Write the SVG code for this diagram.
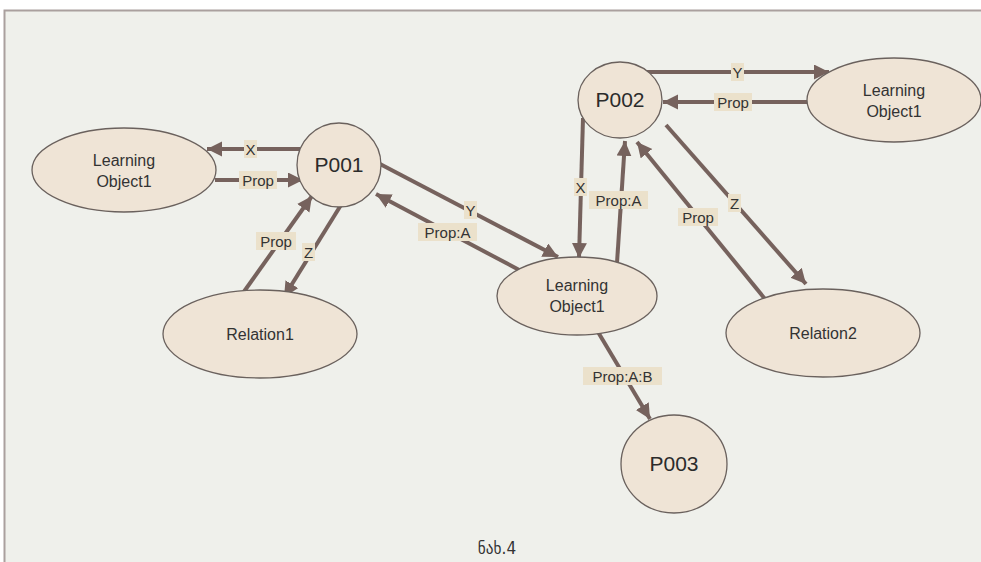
<svg xmlns="http://www.w3.org/2000/svg" width="981" height="562" viewBox="0 0 981 562">
  <defs>
    <marker id="arrow" markerUnits="userSpaceOnUse" markerWidth="16" markerHeight="16" refX="15" refY="7.5" orient="auto">
      <path d="M0,0 L15,7.5 L0,15 z" fill="#76625d"/>
    </marker>
    <style>
      .node { fill: #efe4d6; stroke: #6a615d; stroke-width: 1.3; }
      .ntext { font-family: "Liberation Sans", Arial, sans-serif; font-size: 16px; fill: #333; text-anchor: middle; }
      .ptext { font-family: "Liberation Sans", Arial, sans-serif; font-size: 21px; fill: #2b2b2b; text-anchor: middle; }
      .edge { stroke: #76625d; stroke-width: 4; fill: none; marker-end: url(#arrow); }
      .lbg { fill: #ebe1cb; }
      .ltext { font-family: "Liberation Sans", Arial, sans-serif; font-size: 15px; fill: #333; text-anchor: middle; dominant-baseline: central; }
    </style>
  </defs>

  <!-- page and frame -->
  <rect x="0" y="0" width="981" height="562" fill="#ffffff"/>
  <rect x="4" y="10" width="977" height="552" fill="#eff0eb"/>
  <path d="M4.5,562 L4.5,10.5 L981,10.5" fill="none" stroke="#aaa09e" stroke-width="2"/>

  <!-- connectors -->
  <g id="connectors">
    <line class="edge" x1="300" y1="149" x2="207" y2="149"/>
    <line class="edge" x1="215" y1="180" x2="303" y2="180"/>
    <line class="edge" x1="243" y1="293" x2="312" y2="196"/>
    <line class="edge" x1="341" y1="205" x2="284" y2="297"/>
    <line class="edge" x1="380" y1="164" x2="558" y2="257"/>
    <line class="edge" x1="523" y1="272" x2="376" y2="194"/>
    <line class="edge" x1="583" y1="118" x2="579" y2="258"/>
    <line class="edge" x1="617" y1="263" x2="625" y2="141"/>
    <line class="edge" x1="646" y1="72" x2="829" y2="72"/>
    <line class="edge" x1="807" y1="102" x2="663" y2="102"/>
    <line class="edge" x1="765" y1="299" x2="637" y2="142"/>
    <line class="edge" x1="666" y1="125" x2="806" y2="284"/>
    <line class="edge" x1="598" y1="332" x2="650" y2="419"/>

    <!-- edge labels -->
    <g id="labels">
      <rect class="lbg" x="244" y="140" width="13" height="18"/><text class="ltext" x="250.5" y="149">X</text>
      <rect class="lbg" x="239" y="171" width="38" height="18"/><text class="ltext" x="258" y="180">Prop</text>
      <rect class="lbg" x="256" y="232" width="40" height="18"/><text class="ltext" x="276" y="241">Prop</text>
      <rect class="lbg" x="302" y="243" width="13" height="18"/><text class="ltext" x="308.5" y="252">Z</text>
      <rect class="lbg" x="464" y="201" width="13" height="18"/><text class="ltext" x="470.5" y="210">Y</text>
      <rect class="lbg" x="418" y="223" width="59" height="18"/><text class="ltext" x="447.5" y="232">Prop:A</text>
      <rect class="lbg" x="574" y="178" width="13" height="18"/><text class="ltext" x="580.5" y="187">X</text>
      <rect class="lbg" x="589" y="191" width="59" height="18"/><text class="ltext" x="618.5" y="200">Prop:A</text>
      <rect class="lbg" x="731" y="63" width="13" height="18"/><text class="ltext" x="737.5" y="72">Y</text>
      <rect class="lbg" x="714" y="93" width="38" height="18"/><text class="ltext" x="733" y="102">Prop</text>
      <rect class="lbg" x="678" y="208" width="40" height="18"/><text class="ltext" x="698" y="217">Prop</text>
      <rect class="lbg" x="728" y="194" width="13" height="18"/><text class="ltext" x="734.5" y="203">Z</text>
      <rect class="lbg" x="583" y="367" width="79" height="18"/><text class="ltext" x="622.5" y="376">Prop:A:B</text>
    </g>
  </g>

  <!-- nodes -->
  <g id="lo-left">
    <ellipse class="node" cx="124" cy="170" rx="92" ry="42"/>
    <text class="ntext" x="124" y="166">Learning</text>
    <text class="ntext" x="124" y="187">Object1</text>
  </g>
  <g id="p001">
    <circle class="node" cx="339" cy="165" r="42"/>
    <text class="ptext" x="339" y="172">P001</text>
  </g>
  <g id="relation1">
    <ellipse class="node" cx="260" cy="334" rx="97" ry="44"/>
    <text class="ntext" x="260" y="340">Relation1</text>
  </g>
  <g id="lo-middle">
    <ellipse class="node" cx="577" cy="296" rx="80" ry="39"/>
    <text class="ntext" x="577" y="291">Learning</text>
    <text class="ntext" x="577" y="312">Object1</text>
  </g>
  <g id="p002">
    <ellipse class="node" cx="620" cy="100" rx="42" ry="38"/>
    <text class="ptext" x="620" y="107">P002</text>
  </g>
  <g id="lo-right">
    <ellipse class="node" cx="894" cy="100" rx="87" ry="42"/>
    <text class="ntext" x="894" y="96">Learning</text>
    <text class="ntext" x="894" y="117">Object1</text>
  </g>
  <g id="relation2">
    <ellipse class="node" cx="823" cy="333" rx="97" ry="44"/>
    <text class="ntext" x="823" y="339">Relation2</text>
  </g>
  <g id="p003">
    <ellipse class="node" cx="674" cy="464" rx="53" ry="49"/>
    <text class="ptext" x="674" y="471">P003</text>
  </g>

  <!-- caption -->
  <text x="497" y="554" font-family="'DejaVu Sans Condensed', 'DejaVu Sans', sans-serif" font-size="17" fill="#333" text-anchor="middle">ნახ.4</text>
</svg>
